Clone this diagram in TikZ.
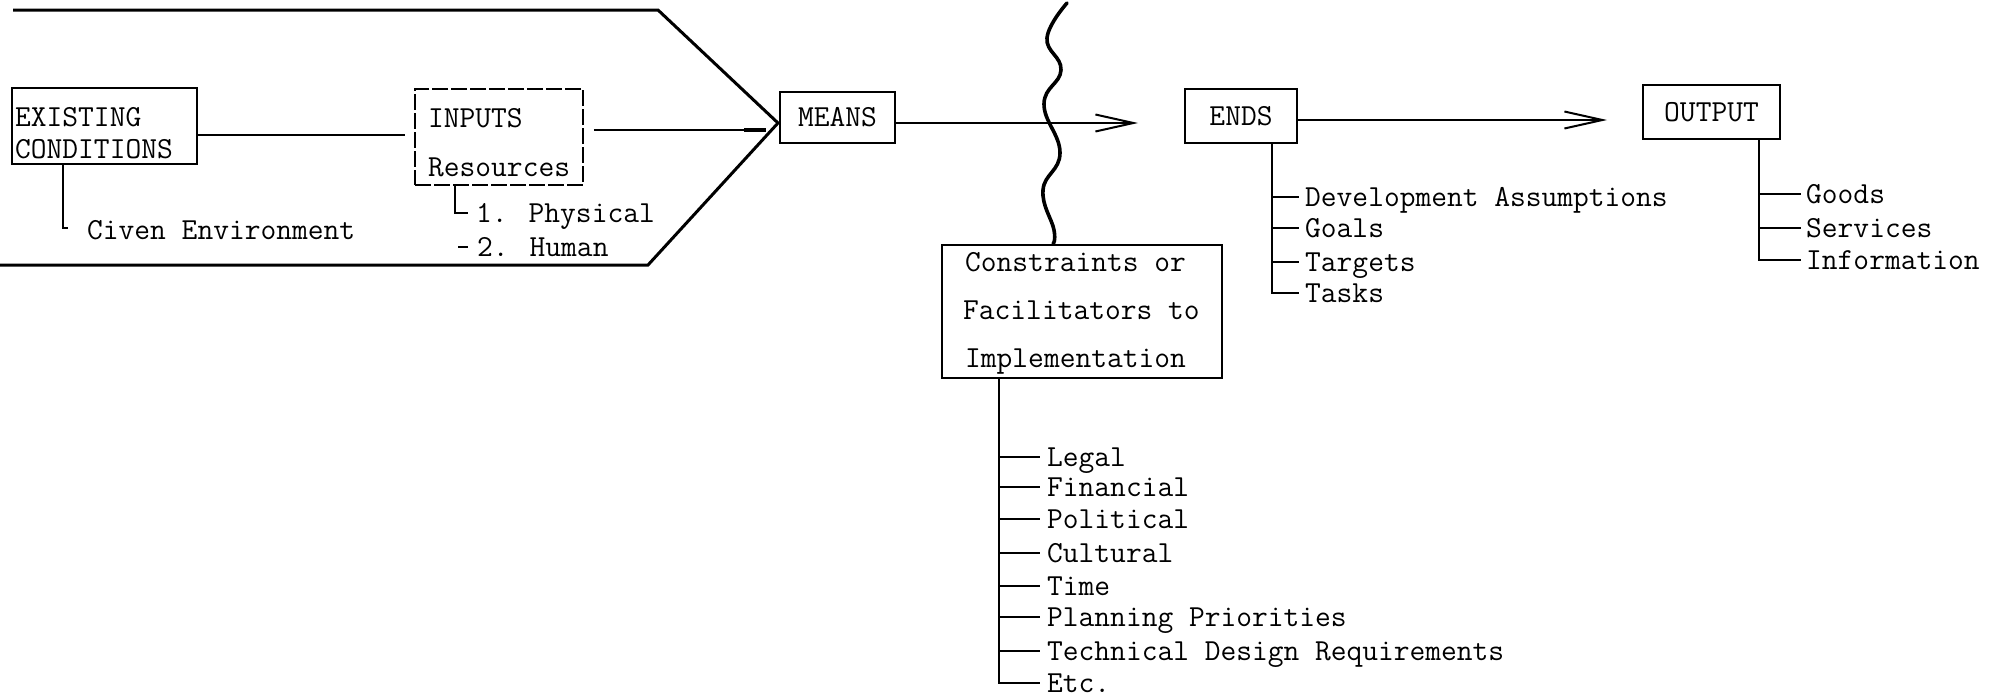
\documentclass[tikz,border=0pt]{standalone}
\usepackage{fontspec}
\usetikzlibrary{arrows.meta}
\begin{document}
\begin{tikzpicture}[x=1pt,y=-1pt,
  every node/.style={font=\ttfamily\addfontfeatures{FakeBold=0.7}\fontsize{30.6}{36}\selectfont, inner sep=0pt},
  box/.style={draw, line width=2pt, rectangle},
  dbox/.style={draw, line width=1.6pt, rectangle, dash pattern=on 16pt off 3pt},
  lbl/.style={anchor=west, text height=18pt, text depth=0pt},
  ln/.style={line width=2pt},
  thinln/.style={line width=1.6pt},
  heavy/.style={line width=3pt, line join=miter},
  wavy/.style={line width=3.6pt, line cap=round},
  barb/.style={-{Straight Barb[length=38pt,width=17pt]}}
]
\fill[white] (0,0) rectangle (2006,697);
\useasboundingbox (0,0) rectangle (2006,697);

% ---------- chevron enclosing existing conditions and inputs ----------
\coordinate (c1) at (13,10);
\coordinate (c2) at (658,10);
\coordinate (tip) at (778,123);
\coordinate (c3) at (648,265);
\coordinate (c4) at (0,265);
\draw[heavy] (c1) -- (c2) -- (tip) -- (c3) -- (c4);

% ---------- boxes ----------
\node[box, minimum width=185, minimum height=76] (ex) at (104.5,126) {};
\node[lbl] (ex1) at (15,117) {EXISTING};
\node[lbl] (ex2) at (15,149) {CONDITIONS};

\node[dbox, minimum width=168, minimum height=96] (inp) at (499,137) {};
\node[lbl] (inp1) at (428,118) {INPUTS};
\node[lbl] (inp2) at (428,167) {Resources};

\node[box, minimum width=115, minimum height=51] (means) at (837.5,117.5) {MEANS};
\node[box, minimum width=112, minimum height=54] (ends) at (1241,116) {ENDS};
\node[box, minimum width=137, minimum height=54] (out) at (1711.5,112) {OUTPUT};

\node[box, minimum width=280, minimum height=133] (con) at (1082,311.5) {};
\node[lbl] (con1) at (965,262) {Constraints or};
\node[lbl] (con2) at (963,310) {Facilitators to};
\node[lbl] (con3) at (965,358) {Implementation};

% ---------- main connectors ----------
\coordinate (l1) at (405,135);
\draw[ln] (ex.east |- l1) -- (l1);
\coordinate (inend) at (766,130);
\draw[ln] ([xshift=10pt]inp.east |- inend) -- (inend);
\draw[line width=3.4pt] ([xshift=-22pt]inend) -- (inend);

\coordinate (a1) at (1138,123);
\draw[ln, barb] (means.east |- a1) -- (a1);
\coordinate (a2) at (1607,120);
\draw[ln, barb] (ends.east |- a2) -- (a2);

% ---------- wavy line ----------
\coordinate (wtop) at (1067,3);
\coordinate (wend) at (1053,245);
\draw[wavy] plot[smooth, tension=0.75] coordinates
  {(wtop) (1047,38) (1061,70) (1044,104) (1060,153) (1043,190) (1054,230) (wend |- con.north)};

% ---------- given environment ----------
\node[lbl] (giv) at (87,230) {Civen Environment};
\coordinate (g0) at (63,228);
\draw[thinln] (ex.south -| g0) -- (g0) -- ++(5,0);

% ---------- inputs list ----------
\node[lbl] (i1) at (476,213) {1.  Physical};
\node[lbl] (i2) at (477,247) {2.  Human};
\coordinate (iv) at (455,0);
\draw[thinln] (inp.south -| iv) -- (iv |- i1.west) -- ([xshift=-8pt]i1.west);
\draw[ln] ([xshift=-19pt]i2.west) -- ([xshift=-9pt]i2.west);

% ---------- ends list ----------
\node[lbl] (e1) at (1305,197) {Development Assumptions};
\node[lbl] (e2) at (1305,228) {Goals};
\node[lbl] (e3) at (1305,262) {Targets};
\node[lbl] (e4) at (1305,293) {Tasks};
\coordinate (ev) at (1272,0);
\draw[thinln] (ends.south -| ev) |- ([xshift=-6pt]e4.west);
\foreach \t in {e1,e2,e3} \draw[thinln] (ev |- \t.west) -- ([xshift=-6pt]\t.west);

% ---------- output list ----------
\node[lbl] (o1) at (1806,194) {Goods};
\node[lbl] (o2) at (1806,228) {Services};
\node[lbl] (o3) at (1806,260) {Information};
\coordinate (ov) at (1759,0);
\draw[thinln] (out.south -| ov) |- ([xshift=-5pt]o3.west);
\foreach \t in {o1,o2} \draw[thinln] (ov |- \t.west) -- ([xshift=-5pt]\t.west);

% ---------- constraints list ----------
\node[lbl] (k1) at (1047,457) {Legal};
\node[lbl] (k2) at (1047,487) {Financial};
\node[lbl] (k3) at (1047,519) {Political};
\node[lbl] (k4) at (1047,553) {Cultural};
\node[lbl] (k5) at (1047,586) {Time};
\node[lbl] (k6) at (1047,617) {Planning Priorities};
\node[lbl] (k7) at (1047,651) {Technical Design Requirements};
\node[lbl] (k8) at (1047,683) {Etc.};
\coordinate (kv) at (999,0);
\draw[thinln] (con.south -| kv) |- ([xshift=-7pt]k8.west);
\foreach \t in {k1,k2,k3,k4,k5,k6,k7} \draw[thinln] (kv |- \t.west) -- ([xshift=-7pt]\t.west);
\end{tikzpicture}
\end{document}
